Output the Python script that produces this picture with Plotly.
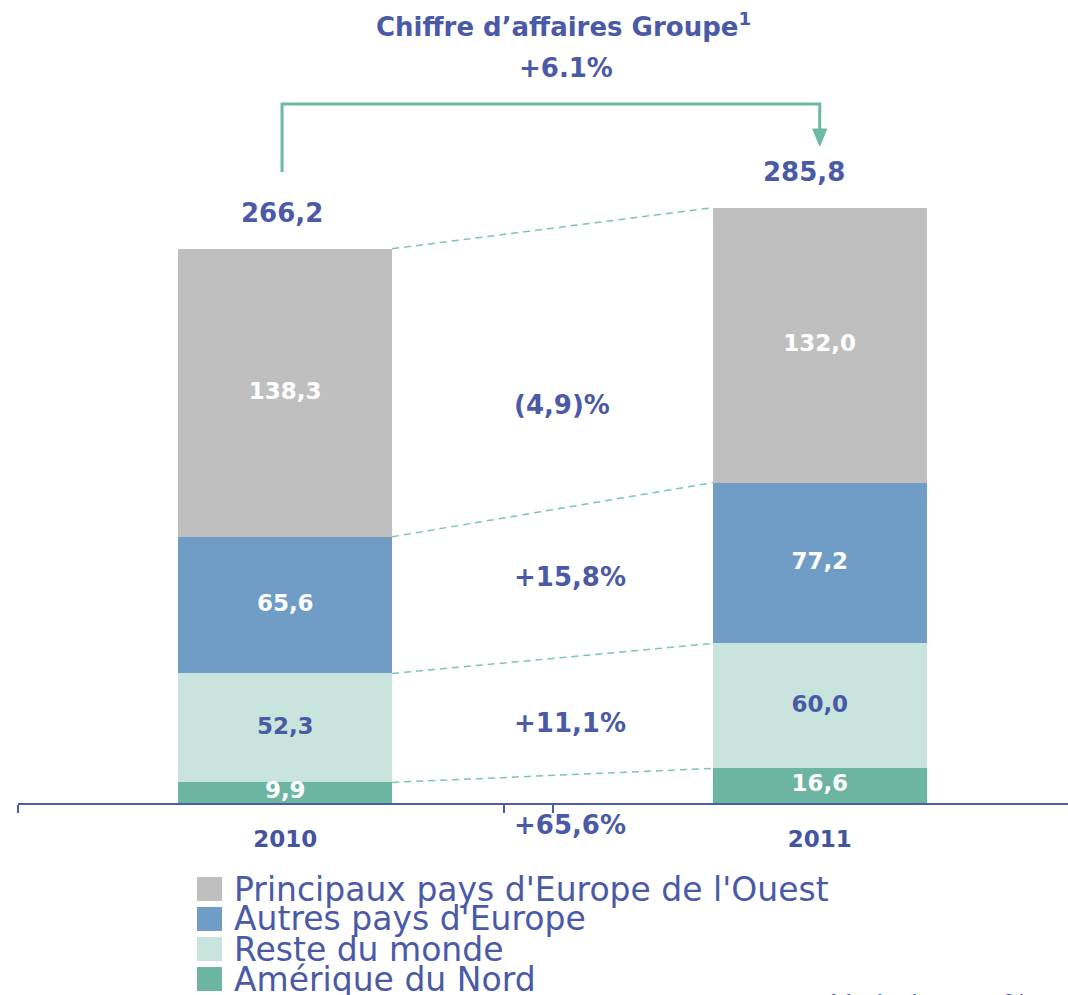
import plotly.graph_objects as go

# ---------------- data ----------------
years = ["2010", "2011"]
segment_names = ["Amérique du Nord", "Reste du monde", "Autres pays d'Europe",
                 "Principaux pays d'Europe de l'Ouest"]
amerique = [9.9, 16.6]
reste = [52.3, 60.0]
autres = [65.6, 77.2]
principaux = [138.3, 132.0]
totals = [266.2, 285.8]
variations = ["+65,6%", "+11,1%", "+15,8%", "(4,9)%"]
group_growth = "+6.1%"
legend_order = ["Principaux pays d'Europe de l'Ouest", "Autres pays d'Europe",
                "Reste du monde", "Amérique du Nord"]

# ---------------- style ----------------
FONT = "DejaVu Sans"
BLUE_TXT = "#4A5AA6"
COLORS = {"Amérique du Nord": "#6CB5A0", "Reste du monde": "#C8E4DC",
          "Autres pays d'Europe": "#6F9DC5", "Principaux pays d'Europe de l'Ouest": "#BFBFBF"}
LABEL_COLORS = {"Amérique du Nord": "white", "Reste du monde": BLUE_TXT,
                "Autres pays d'Europe": "white", "Principaux pays d'Europe de l'Ouest": "white"}
AXIS_COLOR = "#4A5EA8"
TEAL_LINE = "#6DB8A2"
DASH_COLOR = "#7CC6B0"

W, H = 1068, 995
L, R, T, B = 18, 0, 0, 192
PW, PH = W - L - R, H - T - B
PX_PER_CAT = 534.5
PX_PER_UNIT = 2.083
XMIN = -0.5
XMAX = XMIN + PW / PX_PER_CAT
YMAX = PH / PX_PER_UNIT
BAR_W = 0.4


def px_x(px):
    return (px - L) / PW


def px_y(py):
    return (T + PH - py) / PH


def fmt(v):
    return f"{v:.1f}".replace(".", ",")


series = [amerique, reste, autres, principaux]
xpos = list(range(len(years)))

fig = go.Figure()

# stacked bars
for name, vals in zip(segment_names, series):
    fig.add_trace(go.Bar(x=xpos, y=vals, width=BAR_W, name=name,
                         marker=dict(color=COLORS[name], line=dict(width=0)),
                         showlegend=False, hoverinfo="skip"))

# cumulative tops for connectors and labels
cum = [[0.0] * len(years)]
for vals in series:
    cum.append([c + v for c, v in zip(cum[-1], vals)])

# dashed connectors between the bars at each segment top
for k in range(1, len(cum)):
    fig.add_trace(go.Scatter(x=[xpos[0] + BAR_W / 2, xpos[1] - BAR_W / 2],
                             y=[cum[k][0], cum[k][1]], mode="lines",
                             line=dict(color=DASH_COLOR, width=1.5, dash="7px,5px"),
                             showlegend=False, hoverinfo="skip", cliponaxis=False))

# value labels in the segments
for k, (name, vals) in enumerate(zip(segment_names, series)):
    mids = [(cum[k][i] + cum[k + 1][i]) / 2 for i in range(len(years))]
    fig.add_trace(go.Scatter(x=xpos, y=mids, mode="text", text=[fmt(v) for v in vals],
                             textfont=dict(family=FONT, size=23, color=LABEL_COLORS[name], weight="bold"),
                             showlegend=False, hoverinfo="skip", cliponaxis=False))

annotations = []
# totals above bars
for i, (t, xs) in enumerate(zip(totals, [-3, -16])):
    annotations.append(dict(x=xpos[i], y=cum[-1][i], xref="x", yref="y", text=f"<b>{fmt(t)}</b>",
                            showarrow=False, yanchor="middle", yshift=36, xshift=xs,
                            font=dict(family=FONT, size=26, color=BLUE_TXT)))

# title
annotations.append(dict(x=px_x(563), y=px_y(25), xref="paper", yref="paper",
                        text="<b>Chiffre d’affaires Groupe<sup>1</sup></b>", showarrow=False,
                        xanchor="center", yanchor="middle",
                        font=dict(family=FONT, size=26, color=BLUE_TXT)))
annotations.append(dict(x=px_x(566), y=px_y(68), xref="paper", yref="paper",
                        text=f"<b>{group_growth}</b>", showarrow=False,
                        xanchor="center", yanchor="middle",
                        font=dict(family=FONT, size=26, color=BLUE_TXT)))

# variation labels
for txt, py in zip(variations, [825, 723, 577, 405]):
    annotations.append(dict(x=px_x(512), y=px_y(py), xref="paper", yref="paper",
                            text=f"<b>{txt}</b>", showarrow=False, xanchor="left", yanchor="middle",
                            font=dict(family=FONT, size=26, color=BLUE_TXT)))

# legend (manual)
shapes = []
for name, cy in zip(legend_order, [889, 919, 949, 979]):
    shapes.append(dict(type="rect", xref="paper", yref="paper",
                       x0=px_x(197), x1=px_x(222), y0=px_y(cy - 12), y1=px_y(cy + 12),
                       fillcolor=COLORS[name], line=dict(width=0), layer="above"))
    annotations.append(dict(x=px_x(232), y=px_y(cy), xref="paper", yref="paper", text=name,
                            showarrow=False, xanchor="left", yanchor="middle",
                            font=dict(family=FONT, size=33, color=BLUE_TXT)))

annotations.append(dict(x=px_x(830), y=px_y(987), xref="paper", yref="paper", text="Variation en %",
                        showarrow=False, xanchor="left", yanchor="top",
                        font=dict(family=FONT, size=27, color=BLUE_TXT)))

# bracket arrow from 2010 total to 2011 total
y_low = (T + PH - 172) / PX_PER_UNIT
y_top = (T + PH - 104) / PX_PER_UNIT
y_stem = (T + PH - 129) / PX_PER_UNIT
y_tip = (T + PH - 146) / PX_PER_UNIT
hw = 7 / PX_PER_CAT
shapes.append(dict(type="path", xref="x", yref="y",
                   path=f"M {xpos[0]-0.006},{y_low} L {xpos[0]-0.006},{y_top} L {xpos[1]},{y_top} L {xpos[1]},{y_stem}",
                   line=dict(color=TEAL_LINE, width=3)))
shapes.append(dict(type="path", xref="x", yref="y",
                   path=f"M {xpos[1]-hw},{y_stem} L {xpos[1]+hw},{y_stem} L {xpos[1]},{y_tip} Z",
                   fillcolor=TEAL_LINE, line=dict(color=TEAL_LINE, width=1)))

fig.update_layout(
    width=W, height=H, margin=dict(l=L, r=R, t=T, b=B, pad=0),
    paper_bgcolor="white", plot_bgcolor="white",
    barmode="stack", showlegend=False,
    annotations=annotations, shapes=shapes,
    xaxis=dict(range=[XMIN, XMAX], tickmode="array", tickvals=xpos, ticktext=[f"<b>{y}</b>" for y in years],
               ticks="", showgrid=False, zeroline=False, showline=True, linecolor=AXIS_COLOR, linewidth=2,
               tickfont=dict(family=FONT, size=23, color="#4254A2"), ticklabelstandoff=14,
               minor=dict(tickmode="array", tickvals=[-0.5, 0.41, 0.5], ticks="outside", ticklen=8,
                          tickcolor=AXIS_COLOR, tickwidth=2, showgrid=False)),
    yaxis=dict(range=[0, YMAX], visible=False, showgrid=False, zeroline=False),
)

fig.write_html("out.html", config={"displayModeBar": False},
               post_script="document.body.style.margin='0';")
